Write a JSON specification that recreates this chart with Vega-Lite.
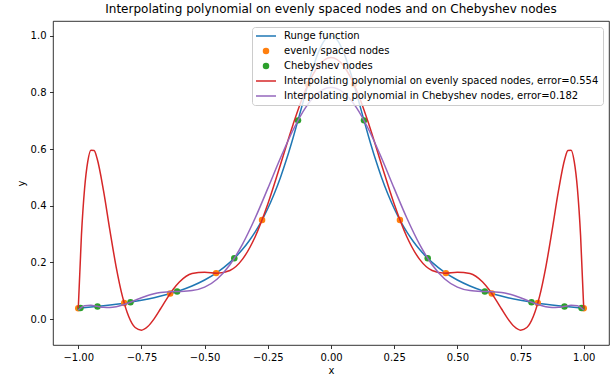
{
  "$schema": "https://vega.github.io/schema/vega-lite/v6.json",
  "width": 556,
  "height": 324,
  "autosize": {"type": "none"},
  "padding": {"left": 53, "top": 21, "right": 7, "bottom": 33},
  "background": "white",
  "title": {"text": "Interpolating polynomial on evenly spaced nodes and on Chebyshev nodes", "font": "DejaVu Sans", "fontSize": 12, "fontWeight": "normal", "color": "#000000", "anchor": "middle", "offset": 5},
  "config": {
    "view": {"stroke": "#000000", "strokeWidth": 0.8},
    "axis": {"labelFont": "DejaVu Sans", "labelFontSize": 10, "labelColor": "#000000", "titleFont": "DejaVu Sans", "titleFontSize": 10, "titleFontWeight": "normal", "titleColor": "#000000", "tickColor": "#000000", "tickSize": 3.5, "tickWidth": 0.8, "labelPadding": 3.5, "grid": false, "domain": false}
  },
  "datasets": {
    "R": [
      {"x": -1, "y": 0.038462, "s": "R"}, {"x": -0.95, "y": 0.04244, "s": "R"}, {"x": -0.9, "y": 0.047059, "s": "R"}, {"x": -0.85, "y": 0.052459, "s": "R"}, {"x": -0.8, "y": 0.058824, "s": "R"}, {"x": -0.75, "y": 0.06639, "s": "R"}, {"x": -0.7, "y": 0.075472, "s": "R"}, {"x": -0.65, "y": 0.086486, "s": "R"}, {"x": -0.6, "y": 0.1, "s": "R"}, {"x": -0.55, "y": 0.116788, "s": "R"}, {"x": -0.5, "y": 0.137931, "s": "R"}, {"x": -0.45, "y": 0.164948, "s": "R"}, {"x": -0.4, "y": 0.2, "s": "R"}, {"x": -0.375, "y": 0.221453, "s": "R"}, {"x": -0.35, "y": 0.246154, "s": "R"}, {"x": -0.325, "y": 0.274678, "s": "R"}, {"x": -0.3, "y": 0.307692, "s": "R"}, {"x": -0.275, "y": 0.345946, "s": "R"}, {"x": -0.25, "y": 0.390244, "s": "R"}, {"x": -0.225, "y": 0.441379, "s": "R"}, {"x": -0.2, "y": 0.5, "s": "R"}, {"x": -0.175, "y": 0.566372, "s": "R"}, {"x": -0.15, "y": 0.64, "s": "R"}, {"x": -0.125, "y": 0.719101, "s": "R"}, {"x": -0.1, "y": 0.8, "s": "R"}, {"x": -0.075, "y": 0.876712, "s": "R"}, {"x": -0.05, "y": 0.941176, "s": "R"}, {"x": -0.025, "y": 0.984615, "s": "R"},
      {"x": 0, "y": 1, "s": "R"},
      {"x": 0.025, "y": 0.984615, "s": "R"}, {"x": 0.05, "y": 0.941176, "s": "R"}, {"x": 0.075, "y": 0.876712, "s": "R"}, {"x": 0.1, "y": 0.8, "s": "R"}, {"x": 0.125, "y": 0.719101, "s": "R"}, {"x": 0.15, "y": 0.64, "s": "R"}, {"x": 0.175, "y": 0.566372, "s": "R"}, {"x": 0.2, "y": 0.5, "s": "R"}, {"x": 0.225, "y": 0.441379, "s": "R"}, {"x": 0.25, "y": 0.390244, "s": "R"}, {"x": 0.275, "y": 0.345946, "s": "R"}, {"x": 0.3, "y": 0.307692, "s": "R"}, {"x": 0.325, "y": 0.274678, "s": "R"}, {"x": 0.35, "y": 0.246154, "s": "R"}, {"x": 0.375, "y": 0.221453, "s": "R"}, {"x": 0.4, "y": 0.2, "s": "R"}, {"x": 0.45, "y": 0.164948, "s": "R"}, {"x": 0.5, "y": 0.137931, "s": "R"}, {"x": 0.55, "y": 0.116788, "s": "R"}, {"x": 0.6, "y": 0.1, "s": "R"}, {"x": 0.65, "y": 0.086486, "s": "R"}, {"x": 0.7, "y": 0.075472, "s": "R"}, {"x": 0.75, "y": 0.06639, "s": "R"}, {"x": 0.8, "y": 0.058824, "s": "R"}, {"x": 0.85, "y": 0.052459, "s": "R"}, {"x": 0.9, "y": 0.047059, "s": "R"}, {"x": 0.95, "y": 0.04244, "s": "R"}, {"x": 1, "y": 0.038462, "s": "R"}
    ],
    "E": [
      {"x": -1, "y": 0.038462, "s": "E"}, {"x": -0.818182, "y": 0.056384, "s": "E"}, {"x": -0.636364, "y": 0.089896, "s": "E"}, {"x": -0.454545, "y": 0.162197, "s": "E"}, {"x": -0.272727, "y": 0.349711, "s": "E"}, {"x": -0.090909, "y": 0.828767, "s": "E"},
      {"x": 0.090909, "y": 0.828767, "s": "E"}, {"x": 0.272727, "y": 0.349711, "s": "E"}, {"x": 0.454545, "y": 0.162197, "s": "E"}, {"x": 0.636364, "y": 0.089896, "s": "E"}, {"x": 0.818182, "y": 0.056384, "s": "E"}, {"x": 1, "y": 0.038462, "s": "E"}
    ],
    "C": [
      {"x": -0.991445, "y": 0.039102, "s": "C"}, {"x": -0.92388, "y": 0.044765, "s": "C"}, {"x": -0.793353, "y": 0.059754, "s": "C"}, {"x": -0.608761, "y": 0.097421, "s": "C"}, {"x": -0.382683, "y": 0.214538, "s": "C"}, {"x": -0.130526, "y": 0.7013, "s": "C"},
      {"x": 0.130526, "y": 0.7013, "s": "C"}, {"x": 0.382683, "y": 0.214538, "s": "C"}, {"x": 0.608761, "y": 0.097421, "s": "C"}, {"x": 0.793353, "y": 0.059754, "s": "C"}, {"x": 0.92388, "y": 0.044765, "s": "C"}, {"x": 0.991445, "y": 0.039102, "s": "C"}
    ],
    "PE": [
      {"x": -1, "y": 0.038462, "s": "PE"}, {"x": -0.9875, "y": 0.295653, "s": "PE"}, {"x": -0.975, "y": 0.460896, "s": "PE"}, {"x": -0.9625, "y": 0.555641, "s": "PE"}, {"x": -0.95, "y": 0.595719, "s": "PE"}, {"x": -0.9375, "y": 0.594941, "s": "PE"}, {"x": -0.925, "y": 0.564817, "s": "PE"}, {"x": -0.9, "y": 0.45242, "s": "PE"}, {"x": -0.875, "y": 0.31404, "s": "PE"}, {"x": -0.85, "y": 0.183559, "s": "PE"}, {"x": -0.825, "y": 0.079176, "s": "PE"}, {"x": -0.8, "y": 0.008084, "s": "PE"}, {"x": -0.775, "y": -0.029809, "s": "PE"}, {"x": -0.75, "y": -0.039006, "s": "PE"}, {"x": -0.725, "y": -0.026278, "s": "PE"}, {"x": -0.7, "y": 0.000914, "s": "PE"}, {"x": -0.675, "y": 0.035483, "s": "PE"}, {"x": -0.65, "y": 0.071417, "s": "PE"}, {"x": -0.625, "y": 0.104149, "s": "PE"}, {"x": -0.6, "y": 0.130697, "s": "PE"}, {"x": -0.55, "y": 0.160888, "s": "PE"}, {"x": -0.5, "y": 0.165641, "s": "PE"}, {"x": -0.45, "y": 0.162101, "s": "PE"}, {"x": -0.4, "y": 0.171596, "s": "PE"}, {"x": -0.35, "y": 0.211634, "s": "PE"}, {"x": -0.3, "y": 0.290671, "s": "PE"}, {"x": -0.25, "y": 0.406042, "s": "PE"}, {"x": -0.2, "y": 0.544848, "s": "PE"}, {"x": -0.15, "y": 0.687091, "s": "PE"}, {"x": -0.1, "y": 0.810138, "s": "PE"}, {"x": -0.05, "y": 0.893493, "s": "PE"},
      {"x": 0, "y": 0.92297, "s": "PE"},
      {"x": 0.05, "y": 0.893493, "s": "PE"}, {"x": 0.1, "y": 0.810138, "s": "PE"}, {"x": 0.15, "y": 0.687091, "s": "PE"}, {"x": 0.2, "y": 0.544848, "s": "PE"}, {"x": 0.25, "y": 0.406042, "s": "PE"}, {"x": 0.3, "y": 0.290671, "s": "PE"}, {"x": 0.35, "y": 0.211634, "s": "PE"}, {"x": 0.4, "y": 0.171596, "s": "PE"}, {"x": 0.45, "y": 0.162101, "s": "PE"}, {"x": 0.5, "y": 0.165641, "s": "PE"}, {"x": 0.55, "y": 0.160888, "s": "PE"}, {"x": 0.6, "y": 0.130697, "s": "PE"}, {"x": 0.625, "y": 0.104149, "s": "PE"}, {"x": 0.65, "y": 0.071417, "s": "PE"}, {"x": 0.675, "y": 0.035483, "s": "PE"}, {"x": 0.7, "y": 0.000914, "s": "PE"}, {"x": 0.725, "y": -0.026278, "s": "PE"}, {"x": 0.75, "y": -0.039006, "s": "PE"}, {"x": 0.775, "y": -0.029809, "s": "PE"}, {"x": 0.8, "y": 0.008084, "s": "PE"}, {"x": 0.825, "y": 0.079176, "s": "PE"}, {"x": 0.85, "y": 0.183559, "s": "PE"}, {"x": 0.875, "y": 0.31404, "s": "PE"}, {"x": 0.9, "y": 0.45242, "s": "PE"}, {"x": 0.925, "y": 0.564817, "s": "PE"}, {"x": 0.9375, "y": 0.594941, "s": "PE"}, {"x": 0.95, "y": 0.595719, "s": "PE"}, {"x": 0.9625, "y": 0.555641, "s": "PE"}, {"x": 0.975, "y": 0.460896, "s": "PE"}, {"x": 0.9875, "y": 0.295653, "s": "PE"}, {"x": 1, "y": 0.038462, "s": "PE"}
    ],
    "PC": [
      {"x": -1, "y": 0.031433, "s": "PC"}, {"x": -0.975, "y": 0.047015, "s": "PC"}, {"x": -0.95, "y": 0.048524, "s": "PC"}, {"x": -0.925, "y": 0.04495, "s": "PC"}, {"x": -0.9, "y": 0.041519, "s": "PC"}, {"x": -0.875, "y": 0.040793, "s": "PC"}, {"x": -0.85, "y": 0.043536, "s": "PC"}, {"x": -0.825, "y": 0.049393, "s": "PC"}, {"x": -0.8, "y": 0.057409, "s": "PC"}, {"x": -0.775, "y": 0.066406, "s": "PC"}, {"x": -0.75, "y": 0.075252, "s": "PC"}, {"x": -0.725, "y": 0.083036, "s": "PC"}, {"x": -0.7, "y": 0.089166, "s": "PC"}, {"x": -0.675, "y": 0.093408, "s": "PC"}, {"x": -0.65, "y": 0.095888, "s": "PC"}, {"x": -0.625, "y": 0.097065, "s": "PC"}, {"x": -0.6, "y": 0.097595, "s": "PC"}, {"x": -0.55, "y": 0.100535, "s": "PC"}, {"x": -0.5, "y": 0.112723, "s": "PC"}, {"x": -0.45, "y": 0.141546, "s": "PC"}, {"x": -0.4, "y": 0.191816, "s": "PC"}, {"x": -0.35, "y": 0.264561, "s": "PC"}, {"x": -0.3, "y": 0.35664, "s": "PC"}, {"x": -0.25, "y": 0.461138, "s": "PC"}, {"x": -0.2, "y": 0.568379, "s": "PC"}, {"x": -0.15, "y": 0.667351, "s": "PC"}, {"x": -0.1, "y": 0.747294, "s": "PC"}, {"x": -0.05, "y": 0.799238, "s": "PC"},
      {"x": 0, "y": 0.81724, "s": "PC"},
      {"x": 0.05, "y": 0.799238, "s": "PC"}, {"x": 0.1, "y": 0.747294, "s": "PC"}, {"x": 0.15, "y": 0.667351, "s": "PC"}, {"x": 0.2, "y": 0.568379, "s": "PC"}, {"x": 0.25, "y": 0.461138, "s": "PC"}, {"x": 0.3, "y": 0.35664, "s": "PC"}, {"x": 0.35, "y": 0.264561, "s": "PC"}, {"x": 0.4, "y": 0.191816, "s": "PC"}, {"x": 0.45, "y": 0.141546, "s": "PC"}, {"x": 0.5, "y": 0.112723, "s": "PC"}, {"x": 0.55, "y": 0.100535, "s": "PC"}, {"x": 0.6, "y": 0.097595, "s": "PC"}, {"x": 0.625, "y": 0.097065, "s": "PC"}, {"x": 0.65, "y": 0.095888, "s": "PC"}, {"x": 0.675, "y": 0.093408, "s": "PC"}, {"x": 0.7, "y": 0.089166, "s": "PC"}, {"x": 0.725, "y": 0.083036, "s": "PC"}, {"x": 0.75, "y": 0.075252, "s": "PC"}, {"x": 0.775, "y": 0.066406, "s": "PC"}, {"x": 0.8, "y": 0.057409, "s": "PC"}, {"x": 0.825, "y": 0.049393, "s": "PC"}, {"x": 0.85, "y": 0.043536, "s": "PC"}, {"x": 0.875, "y": 0.040793, "s": "PC"}, {"x": 0.9, "y": 0.041519, "s": "PC"}, {"x": 0.925, "y": 0.04495, "s": "PC"}, {"x": 0.95, "y": 0.048524, "s": "PC"}, {"x": 0.975, "y": 0.047015, "s": "PC"}, {"x": 1, "y": 0.031433, "s": "PC"}
    ]
  },
  "encoding": {
    "x": {"field": "x", "type": "quantitative", "scale": {"domain": [-1.1, 1.1], "nice": false, "zero": false}, "axis": {"title": "x", "values": [-1, -0.75, -0.5, -0.25, 0, 0.25, 0.5, 0.75, 1], "format": ".2f", "titlePadding": 3}},
    "y": {"field": "y", "type": "quantitative", "scale": {"domain": [-0.0915, 1.052], "nice": false, "zero": false}, "axis": {"title": "y", "values": [0, 0.2, 0.4, 0.6, 0.8, 1.0], "format": ".1f", "titlePadding": 4}},
    "color": {
      "field": "s", "type": "nominal",
      "scale": {"domain": ["R", "E", "C", "PE", "PC"], "range": ["#1f77b4", "#ff7f0e", "#2ca02c", "#d62728", "#9467bd"]},
      "legend": {
        "title": null, "orient": "top-right", "offset": 6,
        "labelFont": "DejaVu Sans", "labelFontSize": 10, "labelColor": "#000000", "labelLimit": 500,
        "labelExpr": "datum.value === 'R' ? 'Runge function' : datum.value === 'E' ? 'evenly spaced nodes' : datum.value === 'C' ? 'Chebyshev nodes' : datum.value === 'PE' ? 'Interpolating polynomial on evenly spaced nodes, error=0.554' : 'Interpolating polynomial in Chebyshev nodes, error=0.182'",
        "symbolSize": 100, "symbolStrokeWidth": 1.5, "symbolOffset": 5, "labelOffset": 13, "rowPadding": 5,
        "fillColor": "rgba(255,255,255,0.8)", "strokeColor": "#cccccc", "cornerRadius": 3, "padding": 4,
        "encode": {
          "symbols": {
            "update": {
              "shape": {"signal": "(datum.value === 'E' || datum.value === 'C') ? 'circle' : 'M-2,0H2'"},
              "size": {"signal": "(datum.value === 'E' || datum.value === 'C') ? 42 : 100"},
              "fill": {"signal": "(datum.value === 'E' || datum.value === 'C') ? scale('color', datum.value) : 'transparent'"},
              "stroke": {"signal": "(datum.value === 'E' || datum.value === 'C') ? 'transparent' : scale('color', datum.value)"},
              "strokeWidth": {"signal": "(datum.value === 'E' || datum.value === 'C') ? 0 : 1.5"},
              "opacity": {"value": 1}
            }
          }
        }
      }
    }
  },
  "layer": [
    {"data": {"name": "R"}, "mark": {"type": "line", "strokeWidth": 1.5, "interpolate": "monotone"}},
    {"data": {"name": "E"}, "mark": {"type": "circle", "size": 42, "opacity": 1}},
    {"data": {"name": "C"}, "mark": {"type": "circle", "size": 42, "opacity": 1}},
    {"data": {"name": "PE"}, "mark": {"type": "line", "strokeWidth": 1.5, "interpolate": "monotone"}},
    {"data": {"name": "PC"}, "mark": {"type": "line", "strokeWidth": 1.5, "interpolate": "monotone"}}
  ]
}
